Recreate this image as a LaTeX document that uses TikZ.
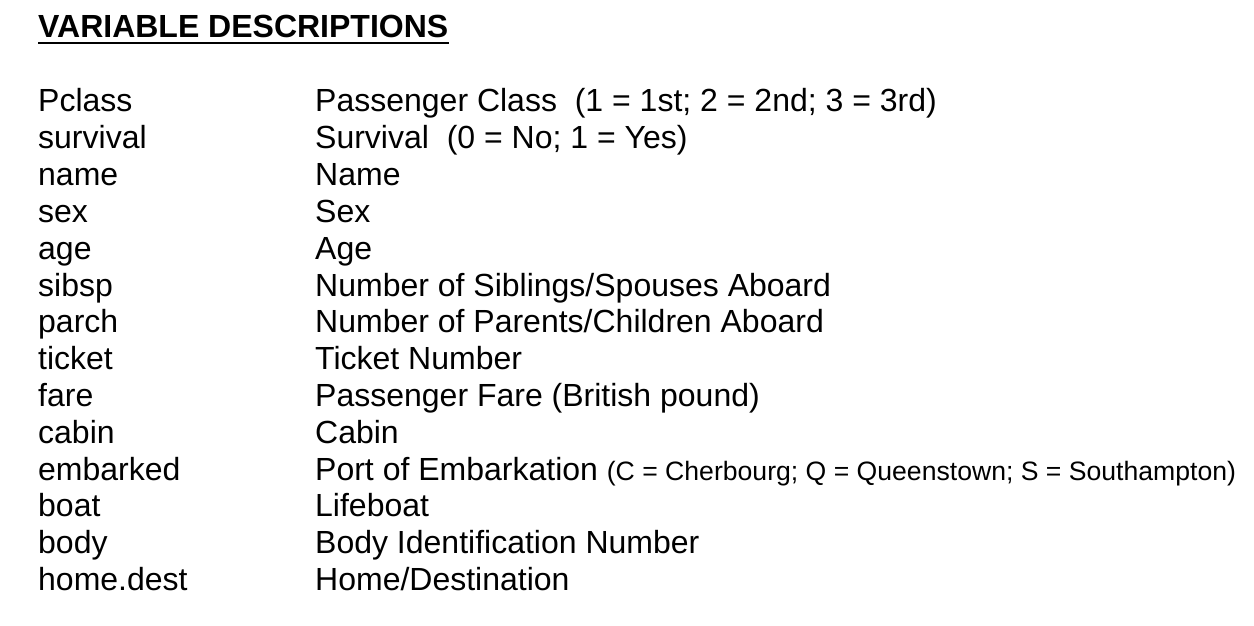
\documentclass[tikz,border=0pt]{standalone}
\usepackage{fontspec}
\setmainfont{Liberation Sans}
\begin{document}
\begin{tikzpicture}[x=1pt,y=1pt,
  lbl/.style={anchor=base west,inner sep=0pt,font=\fontsize{32}{38}\selectfont},
  ttl/.style={anchor=base west,inner sep=0pt,font=\fontsize{32}{38}\selectfont\bfseries}]
\useasboundingbox[fill=white] (0,0) rectangle (1254,-626);
\node[ttl] (title) at (38,-37.5) {VARIABLE DESCRIPTIONS};
\draw[line width=2.4pt] ([yshift=-5.2pt]title.south west) -- ([yshift=-5.2pt]title.south east);
\def\rowy#1{-112-#1*36.8}
\foreach \i/\a/\b in {
 0/Pclass/{Passenger Class\ \ (1 = 1st; 2 = 2nd; 3 = 3rd)},
 1/survival/{Survival\ \ (0 = No; 1 = Yes)},
 2/name/Name,
 3/sex/Sex,
 4/age/Age,
 5/sibsp/{Number of Siblings/Spouses Aboard},
 6/parch/{Number of Parents/Children Aboard},
 7/ticket/{Ticket Number},
 8/fare/{Passenger Fare (British pound)},
 9/cabin/Cabin,
 10/embarked/{Port of Embarkation {\fontsize{26.6}{30}\selectfont(C = Cherbourg; Q = Queenstown; S = Southampton)}},
 11/boat/Lifeboat,
 12/body/{Body Identification Number},
 13/home.dest/{Home/Destination}}{
  \node[lbl] (v\i) at (38,{-112-\i*36.8}) {\a};
  \node[lbl] (d\i) at (315,{-112-\i*36.8}) {\b};
}
\end{tikzpicture}
\end{document}
